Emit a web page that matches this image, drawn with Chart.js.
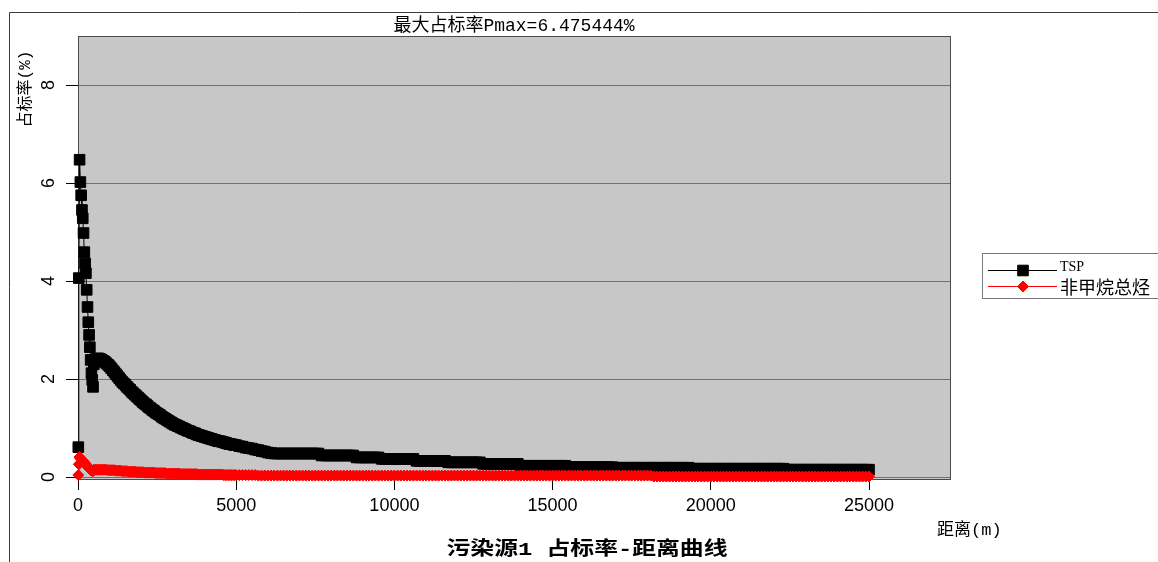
<!DOCTYPE html>
<html>
<head>
<meta charset="utf-8">
<title>污染源1 占标率-距离曲线</title>
<script src="https://cdn.jsdelivr.net/npm/chart.js@4.4.1/dist/chart.umd.min.js"></script>
<style>
  html, body { margin: 0; padding: 0; background: #fff; }
  #wrap { width: 1158px; height: 562px; }
</style>
</head>
<body>
<div id="wrap"><canvas id="chart" width="1158" height="562"></canvas></div>
<script>
// downwind distance (m): 25 m steps near the source, 50 m to 5 km, 100 m beyond
const distance = [
    10, 25, 50, 75, 100, 125, 150, 175, 200, 225, 250, 275, 300, 325, 350, 375, 400, 425, 450, 475,
    500, 550, 600, 650, 700, 750, 800, 850, 900, 950,
    1000, 1050, 1100, 1150, 1200, 1250, 1300, 1350, 1400, 1450,
    1500, 1550, 1600, 1650, 1700, 1750, 1800, 1850, 1900, 1950,
    2000, 2050, 2100, 2150, 2200, 2250, 2300, 2350, 2400, 2450,
    2500, 2550, 2600, 2650, 2700, 2750, 2800, 2850, 2900, 2950,
    3000, 3050, 3100, 3150, 3200, 3250, 3300, 3350, 3400, 3450,
    3500, 3550, 3600, 3650, 3700, 3750, 3800, 3850, 3900, 3950,
    4000, 4050, 4100, 4150, 4200, 4250, 4300, 4350, 4400, 4450,
    4500, 4550, 4600, 4650, 4700, 4750, 4800, 4850, 4900, 4950,
    5000, 5100, 5200, 5300, 5400, 5500, 5600, 5700, 5800, 5900,
    6000, 6100, 6200, 6300, 6400, 6500, 6600, 6700, 6800, 6900,
    7000, 7100, 7200, 7300, 7400, 7500, 7600, 7700, 7800, 7900,
    8000, 8100, 8200, 8300, 8400, 8500, 8600, 8700, 8800, 8900,
    9000, 9100, 9200, 9300, 9400, 9500, 9600, 9700, 9800, 9900,
    10000, 10100, 10200, 10300, 10400, 10500, 10600, 10700, 10800, 10900,
    11000, 11100, 11200, 11300, 11400, 11500, 11600, 11700, 11800, 11900,
    12000, 12100, 12200, 12300, 12400, 12500, 12600, 12700, 12800, 12900,
    13000, 13100, 13200, 13300, 13400, 13500, 13600, 13700, 13800, 13900,
    14000, 14100, 14200, 14300, 14400, 14500, 14600, 14700, 14800, 14900,
    15000, 15100, 15200, 15300, 15400, 15500, 15600, 15700, 15800, 15900,
    16000, 16100, 16200, 16300, 16400, 16500, 16600, 16700, 16800, 16900,
    17000, 17100, 17200, 17300, 17400, 17500, 17600, 17700, 17800, 17900,
    18000, 18100, 18200, 18300, 18400, 18500, 18600, 18700, 18800, 18900,
    19000, 19100, 19200, 19300, 19400, 19500, 19600, 19700, 19800, 19900,
    20000, 20100, 20200, 20300, 20400, 20500, 20600, 20700, 20800, 20900,
    21000, 21100, 21200, 21300, 21400, 21500, 21600, 21700, 21800, 21900,
    22000, 22100, 22200, 22300, 22400, 22500, 22600, 22700, 22800, 22900,
    23000, 23100, 23200, 23300, 23400, 23500, 23600, 23700, 23800, 23900,
    24000, 24100, 24200, 24300, 24400, 24500, 24600, 24700, 24800, 24900,
    25000
];

// TSP 占标率 (%)
const tspRate = [
    0.61, 4.06, 6.475444, 6.02, 5.75, 5.45, 5.28, 4.98, 4.59, 4.36,
    4.16, 3.82, 3.47, 3.16, 2.90, 2.65, 2.39, 2.12, 1.98, 1.84,
    2.30, 2.38, 2.42, 2.42, 2.41, 2.39, 2.37, 2.35, 2.32, 2.29,
    2.26, 2.22, 2.18, 2.14, 2.10, 2.06, 2.02, 1.98, 1.94, 1.91,
    1.88, 1.84, 1.81, 1.78, 1.74, 1.71, 1.68, 1.65, 1.62, 1.59,
    1.56, 1.53, 1.50, 1.48, 1.45, 1.42, 1.40, 1.37, 1.35, 1.32,
    1.30, 1.28, 1.26, 1.23, 1.21, 1.19, 1.17, 1.15, 1.13, 1.11,
    1.09, 1.07, 1.06, 1.04, 1.03, 1.01, 1.00, 0.98, 0.97, 0.95,
    0.94, 0.93, 0.91, 0.90, 0.89, 0.87, 0.86, 0.85, 0.84, 0.83,
    0.82, 0.81, 0.80, 0.79, 0.78, 0.77, 0.76, 0.75, 0.74, 0.73,
    0.73, 0.72, 0.71, 0.70, 0.69, 0.68, 0.67, 0.67, 0.66, 0.65,
    0.65, 0.63, 0.62, 0.60, 0.59, 0.58, 0.56, 0.55, 0.53, 0.52,
    0.50, 0.49, 0.48, 0.48, 0.48, 0.48, 0.48, 0.48, 0.48, 0.48,
    0.48, 0.48, 0.48, 0.48, 0.48, 0.48, 0.48, 0.44, 0.44, 0.44,
    0.44, 0.44, 0.44, 0.44, 0.44, 0.44, 0.44, 0.44, 0.40, 0.40,
    0.40, 0.40, 0.40, 0.40, 0.40, 0.40, 0.37, 0.37, 0.37, 0.37,
    0.37, 0.37, 0.37, 0.37, 0.37, 0.37, 0.37, 0.33, 0.33, 0.33,
    0.33, 0.33, 0.33, 0.33, 0.33, 0.33, 0.33, 0.30, 0.30, 0.30,
    0.30, 0.30, 0.30, 0.30, 0.30, 0.30, 0.30, 0.30, 0.27, 0.27,
    0.27, 0.27, 0.27, 0.27, 0.27, 0.27, 0.27, 0.27, 0.27, 0.27,
    0.23, 0.23, 0.23, 0.23, 0.23, 0.23, 0.23, 0.23, 0.23, 0.23,
    0.23, 0.23, 0.23, 0.23, 0.23, 0.20, 0.20, 0.20, 0.20, 0.20,
    0.20, 0.20, 0.20, 0.20, 0.20, 0.20, 0.20, 0.20, 0.20, 0.20,
    0.19, 0.19, 0.19, 0.19, 0.19, 0.19, 0.19, 0.19, 0.19, 0.19,
    0.19, 0.19, 0.19, 0.19, 0.19, 0.19, 0.19, 0.19, 0.19, 0.19,
    0.19, 0.19, 0.19, 0.19, 0.17, 0.17, 0.17, 0.17, 0.17, 0.17,
    0.17, 0.17, 0.17, 0.17, 0.17, 0.17, 0.17, 0.17, 0.17, 0.17,
    0.17, 0.17, 0.17, 0.17, 0.17, 0.17, 0.17, 0.17, 0.17, 0.17,
    0.17, 0.17, 0.17, 0.17, 0.15, 0.15, 0.15, 0.15, 0.15, 0.15,
    0.15, 0.15, 0.15, 0.15, 0.15, 0.15, 0.15, 0.15, 0.15, 0.15,
    0.15, 0.15, 0.15, 0.15, 0.15, 0.15, 0.15, 0.15, 0.15, 0.15,
    0.15
];

// 非甲烷总烃 占标率 (%)
const nmhcRate = [
    0.04, 0.26, 0.41, 0.38, 0.36, 0.35, 0.33, 0.32, 0.29, 0.28,
    0.26, 0.24, 0.22, 0.20, 0.18, 0.17, 0.15, 0.13, 0.13, 0.12,
    0.15, 0.15, 0.15, 0.15, 0.15, 0.15, 0.15, 0.15, 0.15, 0.14,
    0.14, 0.14, 0.14, 0.14, 0.13, 0.13, 0.13, 0.13, 0.12, 0.12,
    0.12, 0.12, 0.11, 0.11, 0.11, 0.11, 0.11, 0.10, 0.10, 0.10,
    0.10, 0.10, 0.09, 0.09, 0.09, 0.09, 0.09, 0.09, 0.09, 0.08,
    0.08, 0.08, 0.08, 0.08, 0.08, 0.08, 0.07, 0.07, 0.07, 0.07,
    0.07, 0.07, 0.07, 0.07, 0.07, 0.06, 0.06, 0.06, 0.06, 0.06,
    0.06, 0.06, 0.06, 0.06, 0.06, 0.06, 0.05, 0.05, 0.05, 0.05,
    0.05, 0.05, 0.05, 0.05, 0.05, 0.05, 0.05, 0.05, 0.05, 0.05,
    0.05, 0.05, 0.04, 0.04, 0.04, 0.04, 0.04, 0.04, 0.04, 0.04,
    0.04, 0.04, 0.04, 0.04, 0.04, 0.04, 0.04, 0.03, 0.03, 0.03,
    0.03, 0.03, 0.03, 0.03, 0.03, 0.03, 0.03, 0.03, 0.03, 0.03,
    0.03, 0.03, 0.03, 0.03, 0.03, 0.03, 0.03, 0.03, 0.03, 0.03,
    0.03, 0.03, 0.03, 0.03, 0.03, 0.03, 0.03, 0.03, 0.03, 0.03,
    0.03, 0.03, 0.03, 0.03, 0.03, 0.03, 0.03, 0.03, 0.03, 0.03,
    0.03, 0.03, 0.03, 0.03, 0.03, 0.03, 0.03, 0.03, 0.03, 0.03,
    0.03, 0.03, 0.03, 0.03, 0.03, 0.03, 0.03, 0.03, 0.03, 0.03,
    0.03, 0.03, 0.03, 0.03, 0.03, 0.03, 0.03, 0.03, 0.03, 0.03,
    0.03, 0.03, 0.03, 0.03, 0.03, 0.03, 0.03, 0.03, 0.03, 0.03,
    0.03, 0.03, 0.03, 0.03, 0.03, 0.03, 0.03, 0.03, 0.03, 0.03,
    0.03, 0.03, 0.03, 0.03, 0.03, 0.03, 0.03, 0.03, 0.03, 0.03,
    0.03, 0.03, 0.03, 0.03, 0.03, 0.03, 0.03, 0.03, 0.03, 0.03,
    0.03, 0.03, 0.03, 0.03, 0.03, 0.03, 0.03, 0.03, 0.03, 0.03,
    0.03, 0.03, 0.01, 0.01, 0.01, 0.01, 0.01, 0.01, 0.01, 0.01,
    0.01, 0.01, 0.01, 0.01, 0.01, 0.01, 0.01, 0.01, 0.01, 0.01,
    0.01, 0.01, 0.01, 0.01, 0.01, 0.01, 0.01, 0.01, 0.01, 0.01,
    0.01, 0.01, 0.01, 0.01, 0.01, 0.01, 0.01, 0.01, 0.01, 0.01,
    0.01, 0.01, 0.01, 0.01, 0.01, 0.01, 0.01, 0.01, 0.01, 0.01,
    0.01, 0.01, 0.01, 0.01, 0.01, 0.01, 0.01, 0.01, 0.01, 0.01,
    0.01, 0.01, 0.01, 0.01, 0.01, 0.01, 0.01, 0.01, 0.01, 0.01,
    0.01
];

const seriesNames = ["TSP", "非甲烷总烃"];
const xTicks = [0, 5000, 10000, 15000, 20000, 25000];
const yTicks = [0, 2, 4, 6, 8];
const xTitle = "距离(m)";
const yTitle = "占标率(%)";
const chartTitle = "污染源1 占标率-距离曲线";

const pMax = Math.max(...tspRate);
const peakTitle = `最大占标率Pmax=${pMax.toFixed(6)}%`;

const CJK = '"Noto Sans CJK SC"';
const MONO = '"Liberation Mono", ' + CJK;
const SANS = '"Liberation Sans", Arial, sans-serif';
const PLOT_BG = "#c7c7c7";

const toPoints = (values) => values.map((v, i) => ({ x: distance[i], y: v }));

// frame, plot background, legend and the free-standing captions
const framePlugin = {
    id: "frame",
    beforeDraw(chart) {
        const { ctx, chartArea: a, width, height } = chart;
        ctx.save();
        ctx.fillStyle = "#fff";
        ctx.fillRect(0, 0, width, height);
        ctx.strokeStyle = "#3c3c3c";
        ctx.lineWidth = 1;
        ctx.beginPath();
        ctx.moveTo(9.5, height);
        ctx.lineTo(9.5, 12.5);
        ctx.lineTo(width, 12.5);
        ctx.stroke();
        ctx.fillStyle = PLOT_BG;
        ctx.fillRect(a.left, a.top, a.right - a.left, a.bottom - a.top);
        ctx.restore();
    },
    beforeDatasetsDraw(chart) {
        const { ctx, chartArea: a } = chart;
        ctx.save();
        ctx.strokeStyle = "#4a4a4a";
        ctx.lineWidth = 1;
        ctx.strokeRect(a.left + 0.5, a.top - 0.5, a.right - a.left, a.bottom - a.top + 1);
        ctx.restore();
    },
    afterDraw(chart) {
        const { ctx } = chart;
        ctx.save();

        // legend box
        const lx = 982;
        const ly = 253;
        ctx.fillStyle = "#fff";
        ctx.fillRect(lx, ly, 190, 45);
        ctx.strokeStyle = "#7a7a7a";
        ctx.lineWidth = 1;
        ctx.strokeRect(lx + 0.5, ly + 0.5, 190, 45);

        chart.data.datasets.forEach((ds, i) => {
            const y = ly + 17.5 + i * 16;
            ctx.strokeStyle = ds.borderColor;
            ctx.fillStyle = ds.borderColor;
            ctx.lineWidth = 1;
            ctx.beginPath();
            ctx.moveTo(lx + 6, y);
            ctx.lineTo(lx + 75, y);
            ctx.stroke();
            Chart.helpers.drawPoint(ctx, {
                pointStyle: ds.pointStyle,
                radius: ds.pointRadius,
                borderWidth: 1,
                rotation: 0
            }, lx + 41, y);

            ctx.fillStyle = "#000";
            ctx.textAlign = "left";
            ctx.textBaseline = "middle";
            ctx.font = i === 0 ? '14px "Liberation Serif", serif' : "18px " + CJK;
            ctx.fillText(ds.label, lx + 78, i === 0 ? y - 3 : y + 1);
        });

        // y axis caption, reading upwards
        ctx.fillStyle = "#000";
        ctx.font = "16px " + MONO;
        ctx.textAlign = "center";
        ctx.textBaseline = "middle";
        ctx.translate(26, 89);
        ctx.rotate(-Math.PI / 2);
        ctx.fillText(yTitle, 0, 0);
        ctx.setTransform(1, 0, 0, 1, 0, 0);

        // x axis caption, right of the plot
        ctx.font = "17px " + MONO;
        ctx.textAlign = "left";
        ctx.fillText(xTitle, 937, 530);

        // chart caption under the axis, stretched to its slot
        ctx.font = "bold 19px " + MONO;
        const w = ctx.measureText(chartTitle).width;
        const sx = 281 / w;
        ctx.translate(587, 550);
        ctx.scale(sx, 1);
        ctx.textAlign = "center";
        ctx.fillText(chartTitle, 0, 0);
        ctx.restore();
    }
};

new Chart(document.getElementById("chart"), {
    type: "line",
    data: {
        datasets: [
            {
                label: seriesNames[0],
                data: toPoints(tspRate),
                borderColor: "#000000",
                backgroundColor: "#000000",
                borderWidth: 1,
                pointStyle: "rect",
                pointRadius: 7.5,
                pointBorderWidth: 1,
                pointBackgroundColor: "#000000",
                pointBorderColor: "#000000",
                tension: 0,
                clip: false,
                order: 1
            },
            {
                label: seriesNames[1],
                data: toPoints(nmhcRate),
                borderColor: "#ff0000",
                backgroundColor: "#ff0000",
                borderWidth: 1,
                pointStyle: "rectRot",
                pointRadius: 5.5,
                pointBorderWidth: 1,
                pointBackgroundColor: "#ff0000",
                pointBorderColor: "#ff0000",
                tension: 0,
                clip: false,
                order: 0
            }
        ]
    },
    options: {
        responsive: false,
        animation: false,
        devicePixelRatio: 1,
        events: [],
        layout: {
            padding: { top: 12, left: 0, right: 208, bottom: 0 }
        },
        scales: {
            x: {
                type: "linear",
                min: 0,
                max: 27560,
                afterFit: (scale) => { scale.height = 83; },
                afterBuildTicks: (scale) => { scale.ticks = xTicks.map((v) => ({ value: v })); },
                grid: { drawOnChartArea: false, drawTicks: true, tickLength: 11, tickColor: "#000" },
                border: { display: true, color: "#000", width: 1 },
                ticks: {
                    minRotation: 0,
                    maxRotation: 0,
                    padding: 5,
                    color: "#000",
                    font: { family: SANS, size: 18 },
                    callback: (value) => String(value)
                }
            },
            y: {
                type: "linear",
                min: -0.04,
                max: 8.98,
                afterFit: (scale) => { scale.width = 78; },
                afterBuildTicks: (scale) => { scale.ticks = yTicks.map((v) => ({ value: v })); },
                grid: { color: "#717171", lineWidth: 1, drawTicks: true, tickLength: 12, tickColor: "#000" },
                border: { display: true, color: "#000", width: 1 },
                ticks: {
                    minRotation: 90,
                    maxRotation: 90,
                    crossAlign: "center",
                    padding: 12,
                    color: "#000",
                    font: { family: SANS, size: 18 },
                    callback: (value) => String(value)
                }
            }
        },
        plugins: {
            legend: { display: false },
            tooltip: { enabled: false },
            title: {
                display: true,
                text: peakTitle,
                fullSize: false,
                color: "#000",
                font: { family: MONO, size: 18, weight: "normal", lineHeight: 1 },
                padding: { top: 5.5, bottom: 1.5 }
            }
        }
    },
    plugins: [framePlugin]
});
</script>
</body>
</html>
